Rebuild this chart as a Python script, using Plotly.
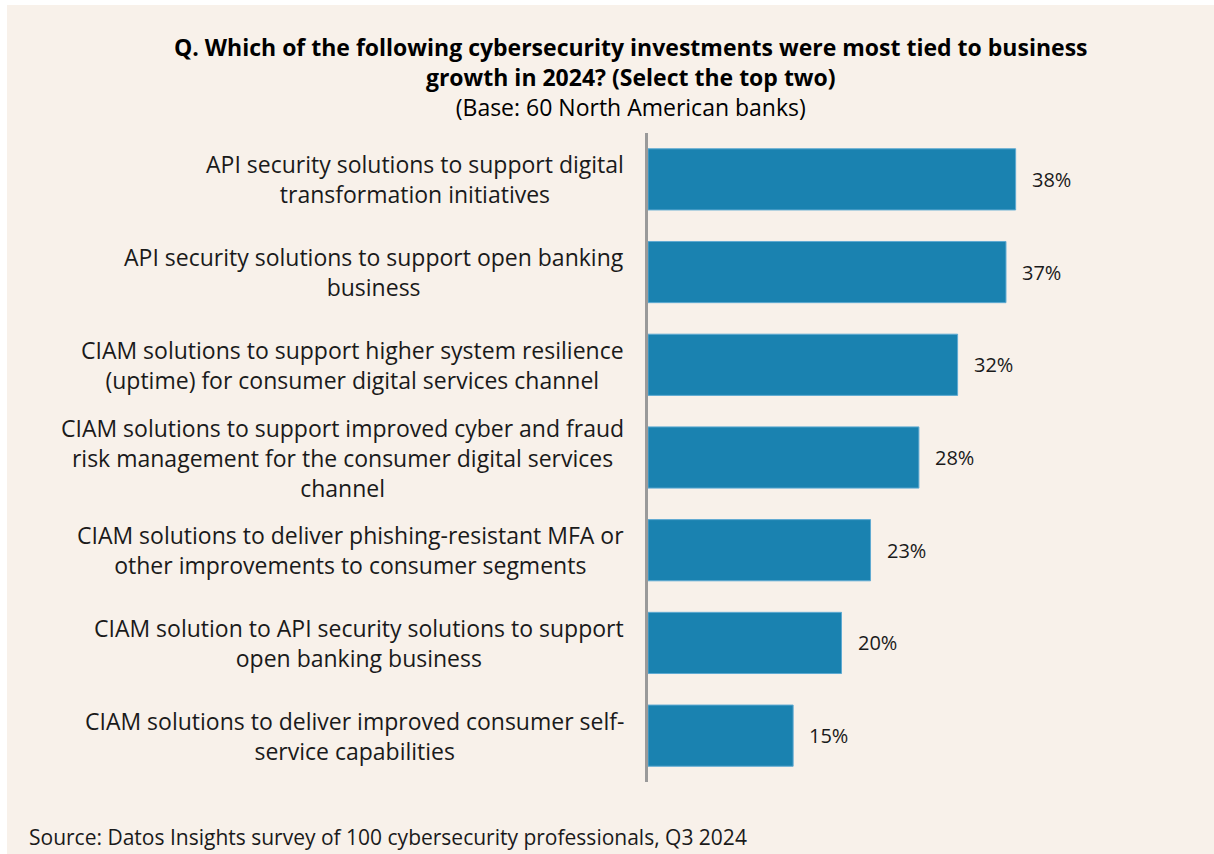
import plotly.graph_objects as go

# Survey answers, top to bottom
categories = [
    "API security solutions to support digital<br>transformation initiatives",
    "API security solutions to support open banking<br>business",
    "CIAM solutions to support higher system resilience<br>(uptime) for consumer digital services channel",
    "CIAM solutions to support improved cyber and fraud<br>risk management for the consumer digital services<br>channel",
    "CIAM solutions to deliver phishing-resistant MFA or<br>other improvements to consumer segments",
    "CIAM solution to API security solutions to support<br>open banking business",
    "CIAM solutions to deliver improved consumer self-<br>service capabilities",
]
values = [38, 37, 32, 28, 23, 20, 15]
value_labels = ["38%", "37%", "32%", "28%", "23%", "20%", "15%"]

title_lines = [
    "Q. Which of the following cybersecurity investments were most tied to business",
    "growth in 2024? (Select the top two)",
]
subtitle = "(Base: 60 North American banks)"
source = "Source: Datos Insights survey of 100 cybersecurity professionals, Q3 2024"

W, H = 1214, 854
ML, MR, MT, MB = 648, 179, 133, 72
BG = "#F8F1EA"
BAR = "#1A82B0"
FONT = "'Open Sans', Lato, sans-serif"
TXT = "#1a1a1a"

ypos = list(range(len(categories)))

fig = go.Figure()
fig.add_trace(go.Bar(
    x=values, y=ypos, orientation="h",
    marker=dict(color=BAR, line=dict(color="#5FAAD2", width=1)),
    width=0.66, hoverinfo="skip",
))

# Category labels, centred multi-line text right-aligned to the axis
for y, label in zip(ypos, categories):
    fig.add_annotation(
        x=0, y=y, xref="x", yref="y", text=label, showarrow=False,
        xanchor="right", yanchor="middle", align="center", xshift=-22,
        font=dict(family=FONT, size=23, color=TXT),
    )

# Value labels next to each bar
for y, v, lab in zip(ypos, values, value_labels):
    fig.add_annotation(
        x=v, y=y, xref="x", yref="y", text=lab, showarrow=False,
        xanchor="left", yanchor="middle", xshift=14,
        font=dict(family=FONT, size=20, color=TXT),
    )

pw = W - ML - MR
ph = H - MT - MB
cx = 631

# Question (bold, two lines) with the base note beneath
fig.add_annotation(
    x=(cx - ML) / pw, y=1 + (MT - 77) / ph, xref="paper", yref="paper",
    text="<b>" + "<br>".join(title_lines) + "</b><br>" + subtitle,
    showarrow=False, xanchor="center", yanchor="middle", align="center",
    font=dict(family=FONT, size=23, color="#000000"),
)
fig.add_annotation(
    x=(27 - ML) / pw, y=-(837 - (H - MB)) / ph, xref="paper", yref="paper",
    text=source, showarrow=False,
    xanchor="left", yanchor="middle",
    font=dict(family=FONT, size=21, color=TXT),
)

# Thin white strip along the top and left edges
fig.add_shape(type="rect", xref="paper", yref="paper",
              x0=-ML / pw, x1=(7 - ML) / pw, y0=-MB / ph, y1=1 + MT / ph,
              fillcolor="white", line=dict(width=0), layer="below")
fig.add_shape(type="rect", xref="paper", yref="paper",
              x0=-ML / pw, x1=(W - ML) / pw, y0=1 + (MT - 5) / ph, y1=1 + MT / ph,
              fillcolor="white", line=dict(width=0), layer="below")

# Vertical axis line at zero
fig.add_shape(type="line", xref="paper", yref="paper",
              x0=-1.5 / pw, x1=-1.5 / pw, y0=0, y1=1,
              line=dict(color="#9A9A9A", width=3))

fig.update_layout(
    width=W, height=H,
    margin=dict(l=ML, r=MR, t=MT, b=MB, pad=0),
    paper_bgcolor=BG, plot_bgcolor=BG,
    showlegend=False,
    bargap=0.34,
    xaxis=dict(range=[0, 40], visible=False, fixedrange=True),
    yaxis=dict(range=[len(categories) - 0.5, -0.5], showticklabels=False,
               showgrid=False, zeroline=False, showline=False, ticks=""),
)

fig.write_html("out.html")
